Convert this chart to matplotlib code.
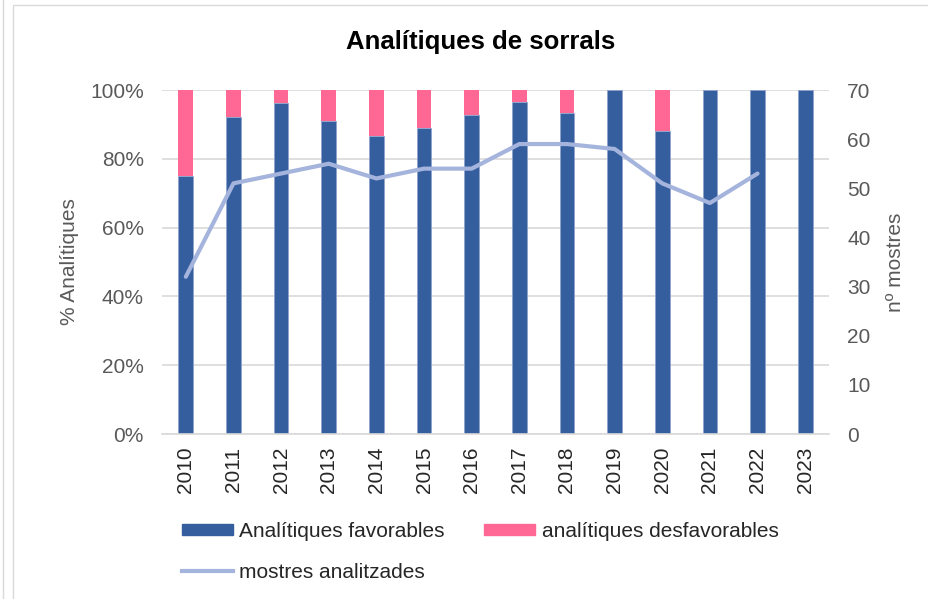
import matplotlib.pyplot as plt
import numpy as np
from matplotlib.patches import Rectangle
from matplotlib.lines import Line2D

plt.rcParams['font.family'] = ['Liberation Sans', 'DejaVu Sans']

years      = ['2010', '2011', '2012', '2013', '2014', '2015', '2016',
              '2017', '2018', '2019', '2020', '2021', '2022', '2023']
favorables = [75.0, 92.2, 96.2, 90.9, 86.5, 88.9, 92.6,
              96.6, 93.2, 100.0, 88.2, 100.0, 100.0, 100.0]
mostres    = [32, 51, 53, 55, 52, 54, 54, 59, 59, 58, 51, 47, 53, np.nan]

blue  = '#355E9F'
pink  = '#FF6795'
lilac = '#A5B4DC'

fav   = np.array(favorables)
desf  = 100 - fav
x     = np.arange(len(years))

fig = plt.figure(figsize=(9.29, 5.99), dpi=100)
ax1 = fig.add_axes([162/929, 1-434/599, 667/929, 344/599])
ax2 = ax1.twinx()

ax1.bar(x, fav, width=0.31, color=blue, edgecolor='#8FA3CC', linewidth=0.6, zorder=2)
ax1.bar(x, desf, bottom=fav, width=0.31, color=pink, edgecolor='none', zorder=2)
ax2.plot(x, mostres, color=lilac, linewidth=3, solid_capstyle='round', zorder=3)

ax1.set_xlim(-0.5, len(years)-0.5)
ax1.set_ylim(0, 100)
ax2.set_ylim(0, 70)
ax1.set_yticks(np.arange(0, 101, 20))
ax1.set_yticklabels([f'{v}%' for v in range(0, 101, 20)])
ax2.set_yticks(np.arange(0, 71, 10))
ax1.set_xticks(x)
ax1.set_xticklabels(years, rotation=90)

ax1.yaxis.grid(True, color='#D9D9D9', linewidth=1.2, zorder=0)
ax1.set_axisbelow(True)
for a in (ax1, ax2):
    for s in a.spines.values():
        s.set_visible(False)
    a.tick_params(length=0, labelsize=15, colors='#595959', pad=13)
ax1.spines['bottom'].set_visible(True)
ax1.spines['bottom'].set_color('#D9D9D9')
ax1.spines['bottom'].set_linewidth(1.2)
ax1.tick_params(axis='x', pad=9, colors='#262626')

ax1.set_ylabel('% Analítiques', fontsize=15, color='#595959', labelpad=8)
ax2.set_ylabel('nº mostres', fontsize=15, color='#595959', labelpad=11)

fig.text(481/929, 1-42/599, 'Analítiques de sorrals', ha='center', va='center',
         fontsize=18.5, fontweight='bold', color='black')

# outer frames
fig.patches.append(Rectangle((13/929, -0.01), 0.99, 1-5/599+0.01, transform=fig.transFigure,
                             fill=False, edgecolor='#D9D9D9', linewidth=1))
fig.add_artist(Line2D([3/929, 3/929], [0, 1], transform=fig.transFigure,
                      color='#D9D9D9', linewidth=1))

# legend: matplotlib fills columns first, so order as fav, line | desf
handles = [Rectangle((0, 0), 1, 1, color=blue),
           Line2D([0], [0], color=lilac, linewidth=3),
           Rectangle((0, 0), 1, 1, color=pink)]
labels = ['Analítiques favorables', 'mostres analitzades', 'analítiques desfavorables']
fig.legend(handles, labels, loc='upper left', bbox_to_anchor=(182/929, 1-522/599),
           ncol=2, frameon=False, fontsize=15, handlelength=2.45, handleheight=0.45,
           handletextpad=0.3, columnspacing=1.9, labelspacing=1.05, borderpad=0,
           borderaxespad=0, labelcolor='#262626')

fig.savefig('out.png', dpi=100)
